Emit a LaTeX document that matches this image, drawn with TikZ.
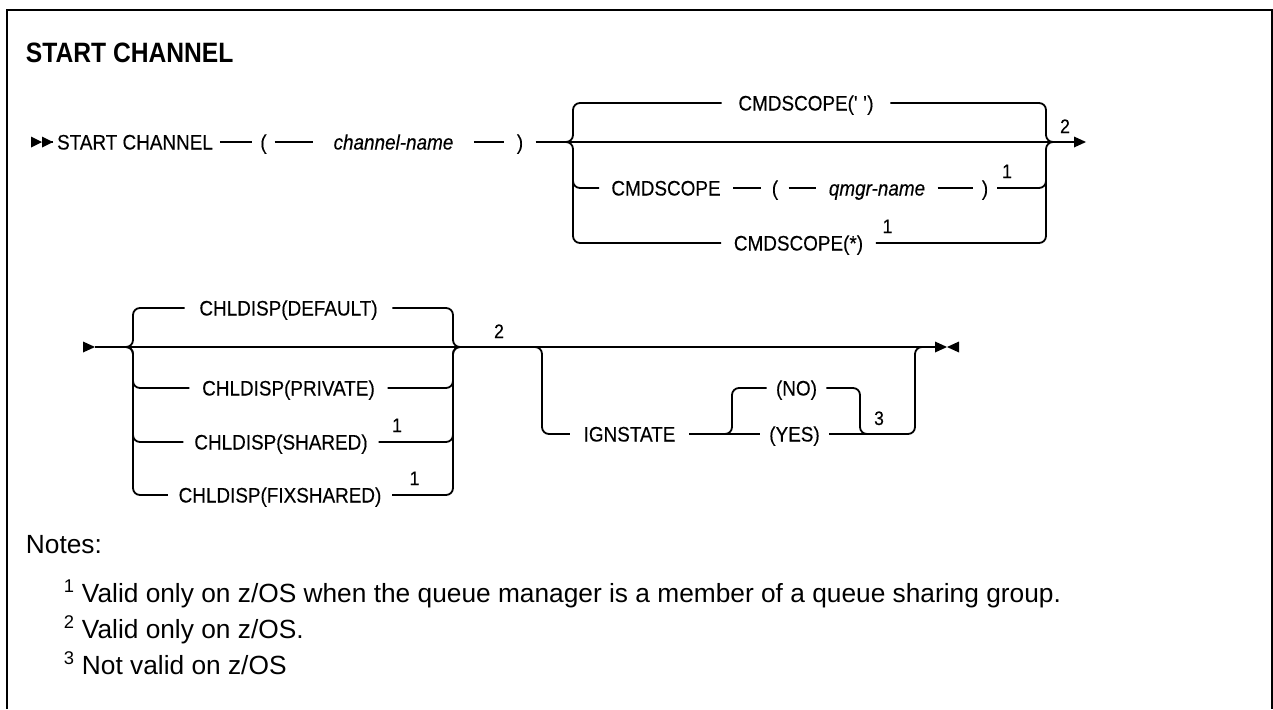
\documentclass[tikz,border=0pt]{standalone}
\usepackage{fontspec}
\setmainfont{Liberation Sans}
\newfontfamily\titlefont[FakeStretch=0.88]{Liberation Sans}
\newfontfamily\diagfont[FakeStretch=0.9,FakeBold=0.3]{Liberation Sans}
\begin{document}
\begin{tikzpicture}[x=1pt,y=-1pt,line width=1.8pt,
  rr/.style={rounded corners=7pt},
  lab/.style={font=\diagfont\fontsize{21}{21}\selectfont, inner ysep=0pt, text height=15pt, text depth=0pt, inner xsep=#1},
  lab/.default=10pt,
  ital/.style={font=\diagfont\fontsize{21}{21}\selectfont\itshape},
  sup/.style={font=\diagfont\fontsize{19.5}{19.5}\selectfont, anchor=base, inner sep=0pt},
  notetext/.style={font=\fontsize{26.3}{26.3}\selectfont, anchor=base west, inner sep=0pt},
  tipmark/.style={fill=black, draw=none}]
\useasboundingbox (0,0) rectangle (1273,709);
% frame
\draw[line width=2pt] (7,709) -- (7,10) -- (1271.5,10) -- (1271.5,709);
% title
\node[anchor=base west, inner sep=0pt, font=\titlefont\bfseries\fontsize{28}{28}\selectfont] (title) at (25,63) {START CHANNEL};

% ---------- row 1 ----------
\fill[tipmark] (31,136.5) -- (42,142) -- (31,147.5) -- cycle;
\fill[tipmark] (42,136.5) -- (53,142) -- (42,147.5) -- cycle;
\coordinate (s1) at (53,142);
\node[lab=6pt] (sc) at (135,142) {START CHANNEL};
\node[lab=7pt] (lp) at (263.5,142) {(};
\node[lab=19.5pt, ital] (cn) at (393.5,142) {channel-name};
\node[lab=11.5pt] (rp) at (520,142) {)};
\coordinate (g1l) at (566,142);
\coordinate (g1r) at (1053,142);
\coordinate (a1) at (1074,142);
\draw (s1) -- (sc.west);
\draw (sc) -- (lp) -- (cn) -- (rp);
\draw (rp.east) -- (a1);
\fill[tipmark] (1074,136.5) -- (1086,142) -- (1074,147.5) -- cycle;
\node[sup] (n2a) at (1065,133) {2};

% CMDSCOPE(' ')
\node[lab=16pt] (cs1) at (806,103) {CMDSCOPE(\textquotesingle\ \textquotesingle)};
\draw[rr] (g1l) -| (573,103) -- (cs1.west);
\draw[rr] (cs1.east) -| (1046,142) -- (g1r);
% CMDSCOPE ( qmgr-name )
\node[lab=11.5pt] (cq) at (666,188) {CMDSCOPE};
\node[lab=9.5pt] (lp2) at (775,188) {(};
\node[lab=11.5pt, ital] (qn) at (877,188) {qmgr-name};
\node[lab=8pt] (rp2) at (985,188) {)};
\draw[rr] (573,165) |- (cq.west);
\draw (cq) -- (lp2) -- (qn) -- (rp2);
\draw[rr] (rp2.east) -| (1046,165);
\node[sup] (n1a) at (1007,178) {1};
% CMDSCOPE(*)
\node[lab=12pt] (cs3) at (798.5,243) {CMDSCOPE(*)};
\draw[rr] (g1l) -| (573,243) -- (cs3.west);
\draw[rr] (cs3.east) -| (1046,142) -- (g1r);
\node[sup] (n1b) at (887.5,233) {1};

% ---------- row 2 ----------
\fill[tipmark] (83,341.5) -- (95,347) -- (83,352.5) -- cycle;
\coordinate (a2s) at (95,347);
\coordinate (g2l) at (127,347);
\coordinate (g2r) at (460,347);
\coordinate (e1) at (935,347);
\draw (a2s) -- (g2l) -- (e1);
\node[lab=14pt] (d1) at (288.5,308) {CHLDISP(DEFAULT)};
\draw[rr] (g2l) -| (133,308) -- (d1.west);
\draw[rr] (d1.east) -| (453,347) -- (g2r);
\node[lab=12pt] (d2) at (288.5,388) {CHLDISP(PRIVATE)};
\draw[rr] (g2l) -| (133,388) -- (d2.west);
\draw[rr] (d2.east) -| (453,347) -- (g2r);
\node[lab=10pt] (d3) at (281,442) {CHLDISP(SHARED)};
\draw[rr] (133,415) |- (d3.west);
\draw[rr] (d3.east) -| (453,415);
\node[sup] (n1c) at (397,432) {1};
\node[lab=10pt] (d4) at (280,495) {CHLDISP(FIXSHARED)};
\draw[rr] (g2l) -| (133,495) -- (d4.west);
\draw[rr] (d4.east) -| (453,347) -- (g2r);
\node[sup] (n1d) at (414.5,485) {1};
\node[sup] (n2b) at (499,338) {2};

% IGNSTATE
\coordinate (b1) at (535,347);
\coordinate (b2) at (922,347);
\node[lab=13pt] (ig) at (629.5,434) {IGNSTATE};
\draw[rr] (b1) -| (542,434) -- (ig.west);
\coordinate (g3l) at (725,434);
\coordinate (g3r) at (867,434);
\node[lab=8.5pt] (no) at (796.5,388) {(NO)};
\node[lab=8.5pt] (yes) at (794.5,434) {(YES)};
\draw (ig) -- (yes);
\draw[rr] (g3l) -| (732,388) -- (no.west);
\draw[rr] (no.east) -| (860,434) -- (g3r);
\draw[rr] (yes.east) -| (915,347) -- (b2);
\node[sup] (n3) at (879,425) {3};
% end mark
\fill[tipmark] (935,341.5) -- (947,347) -- (935,352.5) -- cycle;
\fill[tipmark] (959,341.5) -- (947,347) -- (959,352.5) -- cycle;

% ---------- notes ----------
\node[notetext] (notes) at (25,553) {Notes:};
\node[notetext] (note1) at (63,602) {\textsuperscript{1} Valid only on z/OS when the queue manager is a member of a queue sharing group.};
\node[notetext] (note2) at (63,638) {\textsuperscript{2} Valid only on z/OS.};
\node[notetext] (note3) at (63,674) {\textsuperscript{3} Not valid on z/OS};
\end{tikzpicture}
\end{document}
